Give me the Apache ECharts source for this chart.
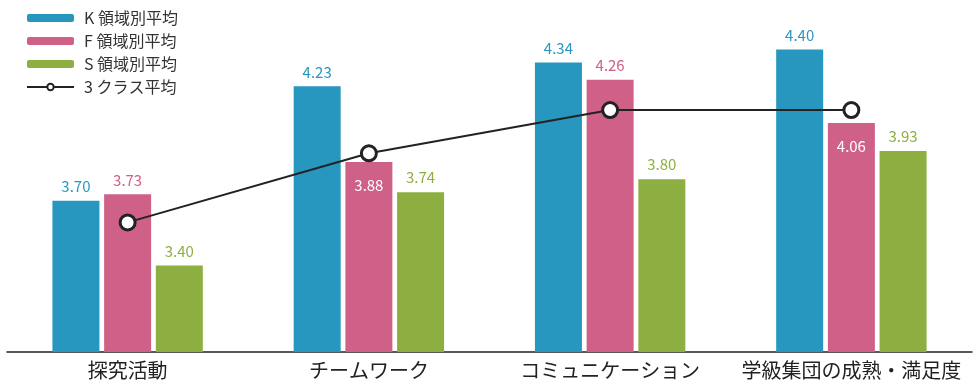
<!DOCTYPE html>
<html><head><meta charset="utf-8">
<script src="https://cdn.jsdelivr.net/npm/echarts@6/dist/echarts.min.js"></script>
<style>html,body{margin:0;padding:0;background:#fff}#c{width:976px;height:389px}</style>
</head><body><div id="c"></div>
<script>
var categories = ['探究活動', 'チームワーク', 'コミュニケーション', '学級集団の成熟・満足度'];
var kValues = [3.70, 4.23, 4.34, 4.40];
var fValues = [3.73, 3.88, 4.26, 4.06];
var sValues = [3.40, 3.74, 3.80, 3.93];
var classAvg = [3.60, 3.92, 4.12, 4.12];
var fLabelInside = [false, true, false, true];

var FONT = '"Noto Sans CJK JP", "Noto Sans", sans-serif';
var cK = '#2797bf', cF = '#cf6088', cS = '#8daf42';

function barLabel(color) {
  return { show: true, position: 'top', distance: 7, color: color, fontSize: 15, fontFamily: FONT,
    formatter: function (p) { return p.value.toFixed(2); } };
}

var fData = fValues.map(function (v, i) {
  if (fLabelInside[i]) {
    return { value: v, label: { position: 'insideTop', distance: 16, color: '#fff' } };
  }
  return v;
});

var chart = echarts.init(document.getElementById('c'));
chart.setOption({
  animation: false,
  textStyle: { fontFamily: FONT },
  legend: {
    orient: 'vertical', left: 26, top: 10, padding: 0, itemWidth: 47, itemHeight: 8, itemGap: 7,
    textStyle: { fontSize: 16, color: '#333', fontFamily: FONT, lineHeight: 16, padding: [0, 0, 0, 5] },
    data: ['K 領域別平均', 'F 領域別平均', 'S 領域別平均', '3 クラス平均']
  },
  grid: { left: 7, right: 4, top: 28, bottom: 37 },
  xAxis: {
    type: 'category', data: categories,
    axisLine: { lineStyle: { color: '#222', width: 1.5 } },
    axisTick: { show: false },
    axisLabel: { fontSize: 20, color: '#222', margin: 8, fontFamily: FONT, interval: 0 }
  },
  yAxis: { type: 'value', min: 3.0, max: 4.5, show: false, splitLine: { show: false } },
  series: [
    { name: 'K 領域別平均', type: 'bar', data: kValues, barWidth: 47, barGap: '10%',
      itemStyle: { color: cK }, label: barLabel(cK) },
    { name: 'F 領域別平均', type: 'bar', data: fData, barWidth: 47, barGap: '10%',
      itemStyle: { color: cF }, label: barLabel(cF) },
    { name: 'S 領域別平均', type: 'bar', data: sValues, barWidth: 47, barGap: '10%',
      itemStyle: { color: cS }, label: barLabel(cS) },
    { name: '3 クラス平均', type: 'line', data: classAvg, z: 10,
      symbol: 'circle', symbolSize: 15,
      lineStyle: { color: '#222', width: 2 },
      itemStyle: { color: '#fff', borderColor: '#222', borderWidth: 3 } }
  ]
});
</script></body></html>
